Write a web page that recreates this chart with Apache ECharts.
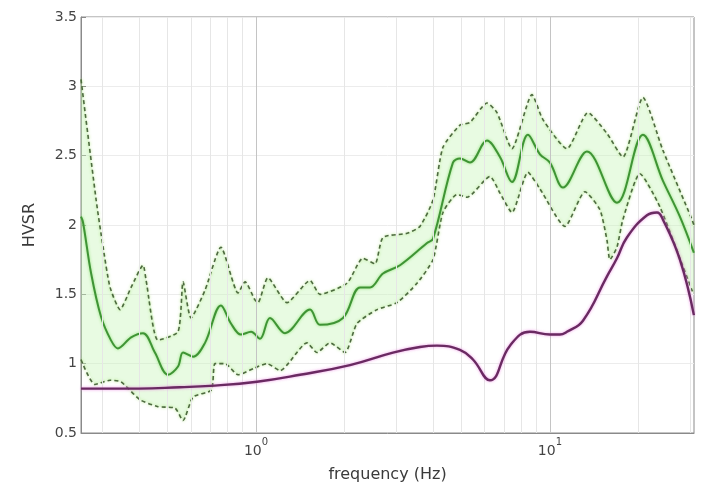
<!DOCTYPE html>
<html>
<head>
<meta charset="utf-8">
<script src="https://cdn.jsdelivr.net/npm/echarts@6/dist/echarts.min.js"></script>
<style>html,body{margin:0;padding:0;background:#fff}#c{width:702px;height:491px}</style>
</head>
<body>
<div id="c"></div>
<script>
// ---- data ----
const meanF = [0.254,0.258,0.275,0.297,0.321,0.339,0.376,0.413,0.453,0.502,0.543,0.565,0.611,0.671,0.760,0.822,0.889,0.962,1.032,1.116,1.255,1.527,1.651,1.977,2.259,2.443,2.704,3.090,3.818,4.000,4.677,4.940,5.345,6.105,6.761,7.426,8.415,9.247,10.0,11.07,13.36,16.90,20.71,24.21,27.67,30.87];
const meanV = [2.06,2.02,1.65,1.34,1.17,1.11,1.19,1.22,1.08,0.92,0.98,1.08,1.05,1.15,1.42,1.29,1.21,1.23,1.18,1.33,1.22,1.39,1.28,1.33,1.55,1.55,1.65,1.71,1.87,1.90,2.45,2.48,2.45,2.61,2.49,2.31,2.65,2.51,2.45,2.27,2.53,2.16,2.65,2.32,2.06,1.80];

const upperF = [0.254,0.286,0.302,0.319,0.345,0.376,0.413,0.423,0.464,0.543,0.565,0.601,0.671,0.760,0.869,0.918,0.992,1.016,1.098,1.275,1.527,1.651,2.040,2.312,2.540,2.704,3.264,3.611,4.000,4.325,4.940,5.345,6.105,6.604,7.426,8.689,9.464,11.42,13.46,15.63,17.71,20.71,24.21,30.41,30.87];
const upperV = [3.05,2.18,1.84,1.55,1.39,1.55,1.71,1.60,1.17,1.23,1.59,1.33,1.53,1.84,1.51,1.59,1.46,1.44,1.62,1.44,1.60,1.50,1.58,1.76,1.72,1.91,1.94,1.99,2.18,2.56,2.72,2.74,2.88,2.81,2.55,2.94,2.76,2.55,2.81,2.66,2.49,2.92,2.54,2.04,2.00];

const lowerF = [0.254,0.283,0.319,0.347,0.403,0.464,0.530,0.565,0.611,0.705,0.725,0.785,0.869,0.992,1.090,1.207,1.491,1.612,1.785,2.008,2.207,2.581,3.019,3.529,4.000,4.325,4.828,5.222,6.250,6.761,7.426,8.415,9.247,11.25,13.15,14.79,15.63,15.99,16.90,17.71,20.23,23.66,30.41,30.87];
const lowerV = [1.03,0.85,0.88,0.87,0.74,0.69,0.68,0.59,0.76,0.81,1.00,1.00,0.92,0.97,1.00,0.95,1.15,1.08,1.15,1.08,1.29,1.39,1.44,1.58,1.75,2.09,2.22,2.20,2.35,2.23,2.09,2.38,2.26,1.99,2.24,2.11,1.89,1.75,1.84,2.04,2.37,2.13,1.53,1.50];

const modelF = [0.254,0.40,0.55,0.698,1.008,1.412,2.088,2.924,3.611,4.127,4.940,5.470,6.250,7.311,8.551,10.0,10.81,11.42,12.95,15.63,16.90,18.27,21.38,23.12,24.21,27.67,30.87];
const modelV = [0.82,0.82,0.83,0.84,0.87,0.92,0.99,1.08,1.12,1.13,1.10,1.03,0.88,1.13,1.23,1.21,1.21,1.23,1.31,1.63,1.76,1.91,2.07,2.09,2.04,1.75,1.35];

const minorGridF = [0.3,0.4,0.5,0.6,0.7,0.8,0.9,2,3,4,5,6,7,8,9,20,30];
const majorGridF = [1,10];
const yTicks = {min:0.5, max:3.5, step:0.5};
const xRange = {min:0.254, max:30.9};
const xTitle = 'frequency (Hz)';
const yTitle = 'HVSR';

const pairs = (f, v) => f.map((x, i) => [x, v[i]]);
const FONT = 'DejaVu Sans';

const chart = echarts.init(document.getElementById('c'), null, {renderer:'canvas'});
chart.setOption({
  animation: false,
  backgroundColor: '#ffffff',
  grid: {left:81, top:17, right:8, bottom:58, show:true, borderColor:'#8a8a8a', borderWidth:1, backgroundColor:'transparent', outerBoundsMode:'none', containLabel:false},
  xAxis: {
    type:'log', logBase:10, min:xRange.min, max:xRange.max,
    name:xTitle, nameLocation:'middle', nameGap:34,
    nameTextStyle:{fontFamily:FONT, fontSize:16, color:'#3a3a3a'},
    axisLine:{show:true, lineStyle:{color:'#8a8a8a', width:1}},
    axisTick:{show:true, inside:true, length:5, lineStyle:{color:'#8a8a8a'}},
    splitLine:{show:false},
    minorTick:{show:false}, minorSplitLine:{show:false},
    axisLabel:{
      show:true, margin:4, showMinLabel:false, showMaxLabel:false,
      formatter: function(v){
        const l = Math.log10(v), r = Math.round(l);
        if (Math.abs(l - r) > 1e-6) return '';
        return '{b|10}{s|' + r + '}';
      },
      rich:{
        b:{fontFamily:FONT, fontSize:14, color:'#444', lineHeight:21, verticalAlign:'bottom'},
        s:{fontFamily:FONT, fontSize:10, color:'#444', lineHeight:16, verticalAlign:'top'}
      }
    }
  },
  yAxis: {
    type:'value', min:yTicks.min, max:yTicks.max, interval:yTicks.step,
    name:yTitle, nameLocation:'middle', nameGap:43, nameRotate:90,
    nameTextStyle:{fontFamily:FONT, fontSize:16, color:'#3a3a3a'},
    axisLine:{show:true, lineStyle:{color:'#8a8a8a', width:1}},
    axisTick:{show:true, inside:true, length:5, lineStyle:{color:'#8a8a8a'}},
    axisLabel:{fontFamily:FONT, fontSize:14, color:'#444', margin:4},
    splitLine:{show:true, lineStyle:{color:'#ececec', width:1}}
  },
  series: [
    {
      type:'line', data:[], silent:true, z:0,
      markLine:{
        silent:true, symbol:'none', animation:false,
        label:{show:false},
        data: minorGridF.map(f => ({xAxis:f, lineStyle:{color:'#e6e6e6', width:1, type:'solid'}}))
          .concat(majorGridF.map(f => ({xAxis:f, lineStyle:{color:'#c4c4c4', width:1, type:'solid'}})))
      }
    },
    {
      type:'custom', coordinateSystem:'cartesian2d', silent:true, z:1,
      data:[[1, 1]],
      renderItem: function(params, api){
        const pts = [];
        for (let i = 0; i < upperF.length; i++) pts.push(api.coord([upperF[i], upperV[i]]));
        for (let i = lowerF.length - 1; i >= 0; i--) pts.push(api.coord([lowerF[i], lowerV[i]]));
        return {type:'polygon', shape:{points:pts}, style:{fill:'rgba(200,245,185,0.42)'}};
      }
    },
    {
      name:'upper', type:'line', data:pairs(upperF, upperV), showSymbol:false, smooth:0.2, z:3,
      lineStyle:{color:'#4d6a40', width:1.6, type:[4,3], shadowColor:'rgba(150,220,90,0.8)', shadowBlur:3}
    },
    {
      name:'lower', type:'line', data:pairs(lowerF, lowerV), showSymbol:false, smooth:0.2, z:3,
      lineStyle:{color:'#4d6a40', width:1.6, type:[4,3], shadowColor:'rgba(150,220,90,0.8)', shadowBlur:3}
    },
    {
      name:'mean', type:'line', data:pairs(meanF, meanV), showSymbol:false, smooth:0.35, z:4,
      lineStyle:{color:'#3f9435', width:2, shadowColor:'rgba(120,220,90,0.8)', shadowBlur:3}
    },
    {
      name:'model', type:'line', data:pairs(modelF, modelV), showSymbol:false, smooth:0.45, z:5,
      lineStyle:{color:'#6a2a62', width:2.4, shadowColor:'rgba(235,130,225,0.8)', shadowBlur:3}
    }
  ]
});
</script>
</body>
</html>
